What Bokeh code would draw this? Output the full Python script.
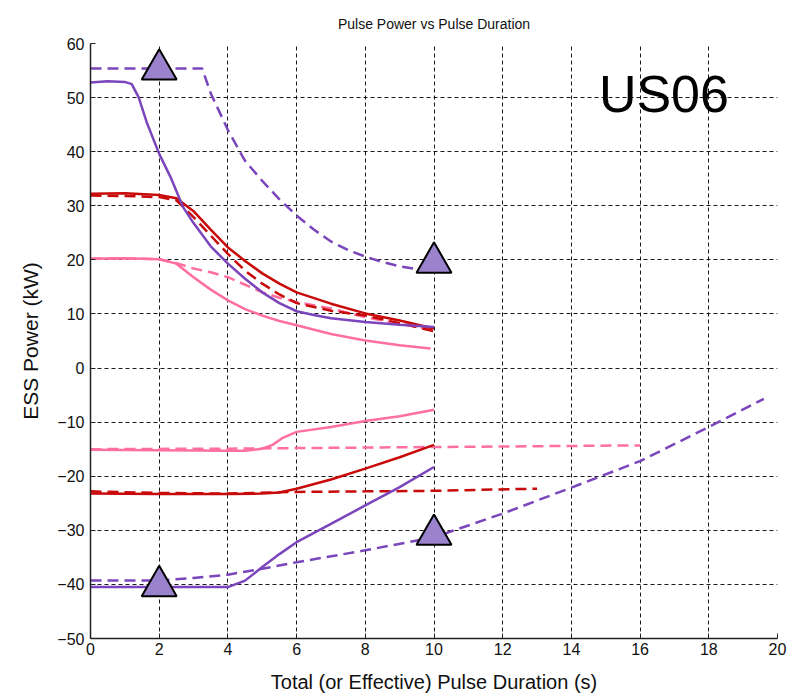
from bokeh.plotting import figure
from bokeh.models import Range1d, Label, FixedTicker
from bokeh.embed import file_html
from bokeh.resources import INLINE

# ---------------- data ----------------
x_ticks = list(range(0, 21, 2))
y_ticks = list(range(-50, 61, 10))

# discharge (positive power)
purple_dash_top_x = [0, 3.25, 3.5, 4.0, 4.5, 5.0, 5.5, 6.0, 6.5, 7.0, 7.5, 8.0, 8.5, 9.0, 9.5, 10.0]
purple_dash_top_y = [55.4, 55.4, 50.8, 44.0, 38.3, 34.6, 31.2, 28.2, 25.6, 23.4, 21.8, 20.6, 19.6, 18.8, 18.3, 18.0]

purple_top_x = [0, 0.5, 1.0, 1.2, 1.4, 1.65, 2.0, 2.33, 2.7, 3.0, 3.5, 4.0, 4.5, 5.0, 5.5, 6.0, 6.5, 7.0, 8.0, 9.0, 10.0]
purple_top_y = [52.8, 53.0, 52.9, 52.5, 50.1, 45.2, 39.6, 35.3, 29.7, 26.8, 22.5, 19.3, 16.5, 14.0, 12.0, 10.5, 9.8, 9.2, 8.5, 8.0, 7.6]

red_top_x = [0, 1, 2, 2.5, 3, 3.5, 4, 4.5, 5, 5.5, 6, 7, 8, 9, 10]
red_top_y = [32.2, 32.3, 32.0, 31.4, 29.0, 25.6, 22.3, 19.8, 17.5, 15.6, 14.0, 11.9, 10.1, 8.8, 7.3]

red_dash_top_x = [0, 1, 2, 2.5, 3, 3.5, 4, 4.5, 5, 5.5, 6, 7, 8, 9, 10]
red_dash_top_y = [31.9, 31.8, 31.6, 31.0, 27.9, 24.5, 21.1, 18.0, 15.6, 13.6, 12.0, 10.6, 9.7, 8.3, 6.8]

pink_top_x = [0, 1, 2, 2.5, 3, 3.5, 4, 4.5, 5, 5.5, 6, 7, 8, 9, 9.9]
pink_top_y = [20.2, 20.3, 20.1, 19.3, 16.8, 14.5, 12.5, 10.9, 9.7, 8.7, 7.9, 6.3, 5.1, 4.2, 3.6]

pink_dash_top_x = [0, 1, 2, 2.5, 3, 3.5, 4, 4.5, 5, 5.5, 6, 7, 8, 9, 10]
pink_dash_top_y = [20.2, 20.3, 20.1, 19.4, 18.4, 17.7, 16.8, 15.4, 14.0, 13.0, 12.2, 11.0, 9.4, 8.2, 7.0]

# charge (negative power)
pink_bot_x = [0, 2, 4, 4.5, 5, 5.3, 5.6, 6, 7, 8, 9, 10]
pink_bot_y = [-15.1, -15.2, -15.3, -15.3, -14.9, -14.2, -12.9, -11.8, -10.9, -9.8, -8.9, -7.7]

pink_dash_bot_x = [0, 4, 8, 12, 16]
pink_dash_bot_y = [-15.0, -14.9, -14.7, -14.5, -14.3]

red_bot_x = [0, 2, 4, 5, 5.5, 6, 7, 8, 9, 10]
red_bot_y = [-23.2, -23.3, -23.3, -23.2, -23.0, -22.3, -20.6, -18.6, -16.5, -14.2]

red_dash_bot_x = [0, 2, 4, 6, 8, 10, 13]
red_dash_bot_y = [-22.8, -23.1, -23.2, -22.9, -22.8, -22.7, -22.3]

purple_bot_x = [0, 2, 4, 4.5, 5, 5.5, 6, 7, 8, 9, 10]
purple_bot_y = [-40.5, -40.5, -40.5, -39.3, -36.8, -34.4, -32.2, -28.8, -25.4, -22.0, -18.3]

purple_dash_bot_x = [0, 2, 3, 4, 5, 6, 8, 10, 12, 14, 16, 18, 19.6]
purple_dash_bot_y = [-39.3, -39.3, -38.8, -38.2, -37.1, -35.9, -33.7, -31.3, -26.9, -22.1, -17.2, -10.9, -5.7]

tri_x = [2, 10, 10, 2]
tri_y = [55.2, 19.5, -30.8, -40.3]

# ---------------- style ----------------
PURPLE = "#7b45bb"
RED = "#c80a0a"
PINK = "#ff6f9f"
FONT = "Liberation Sans"

p = figure(width=794, height=696, output_backend="svg", toolbar_location=None,
           x_range=Range1d(0, 20), y_range=Range1d(-50, 60),
           title="Pulse Power vs Pulse Duration",
           min_border_left=90, min_border_right=17, min_border_top=43, min_border_bottom=58)

p.background_fill_color = "white"
p.border_fill_color = "white"
p.outline_line_color = None

p.title.align = "center"
p.title.text_font = FONT
p.title.text_font_style = "normal"
p.title.text_font_size = "14px"
p.title.text_color = "#111111"
p.title.standoff = 24

for ax in (p.xaxis[0], p.yaxis[0]):
    ax.axis_line_color = "#222222"
    ax.axis_line_width = 1.5
    ax.major_tick_in = 5
    ax.major_tick_out = 0
    ax.major_tick_line_color = "#222222"
    ax.minor_tick_line_color = None
    ax.major_label_text_font = FONT
    ax.major_label_text_font_size = "16px"
    ax.major_label_text_color = "#111111"
    ax.axis_label_text_font = FONT
    ax.axis_label_text_font_style = "normal"
    ax.axis_label_text_color = "#111111"

p.xaxis.ticker = FixedTicker(ticks=x_ticks)
p.yaxis.ticker = FixedTicker(ticks=y_ticks)
p.xaxis.axis_label = "Total (or Effective) Pulse Duration (s)"
p.yaxis.axis_label = "ESS Power (kW)"
p.xaxis.axis_label_text_font_size = "20px"
p.yaxis.axis_label_text_font_size = "21px"
p.xaxis.major_label_standoff = 4
p.yaxis.major_label_standoff = 6
p.xaxis.axis_label_standoff = 13
p.yaxis.axis_label_standoff = 12

for g in (p.xgrid[0], p.ygrid[0]):
    g.grid_line_color = "black"
    g.grid_line_dash = "4 3"
    g.grid_line_width = 1
    g.grid_line_alpha = 0.9

LW = 2.5
DASH = "11 6"

p.line(pink_dash_top_x, pink_dash_top_y, color=PINK, line_width=LW, line_dash=DASH)
p.line(red_dash_top_x, red_dash_top_y, color=RED, line_width=LW, line_dash=DASH)
p.line(purple_dash_top_x, purple_dash_top_y, color=PURPLE, line_width=LW, line_dash=DASH)
p.line(pink_dash_bot_x, pink_dash_bot_y, color=PINK, line_width=LW, line_dash=DASH)
p.line(red_dash_bot_x, red_dash_bot_y, color=RED, line_width=LW, line_dash=DASH)
p.line(purple_dash_bot_x, purple_dash_bot_y, color=PURPLE, line_width=LW, line_dash=DASH)

p.line(pink_top_x, pink_top_y, color=PINK, line_width=LW)
p.line(red_top_x, red_top_y, color=RED, line_width=LW)
p.line(purple_top_x, purple_top_y, color=PURPLE, line_width=LW)
p.line(pink_bot_x, pink_bot_y, color=PINK, line_width=LW)
p.line(red_bot_x, red_bot_y, color=RED, line_width=LW)
p.line(purple_bot_x, purple_bot_y, color=PURPLE, line_width=LW)

p.scatter(tri_x, tri_y, marker="triangle", size=35, fill_color="#9a82cc",
          line_color="black", line_width=2)

p.add_layout(Label(x=14.8, y=50.6, text="US06", text_font=FONT,
                   text_font_size="52px", text_color="black",
                   text_baseline="alphabetic", text_align="left"))

open("out.html", "w").write(file_html(p, INLINE))
